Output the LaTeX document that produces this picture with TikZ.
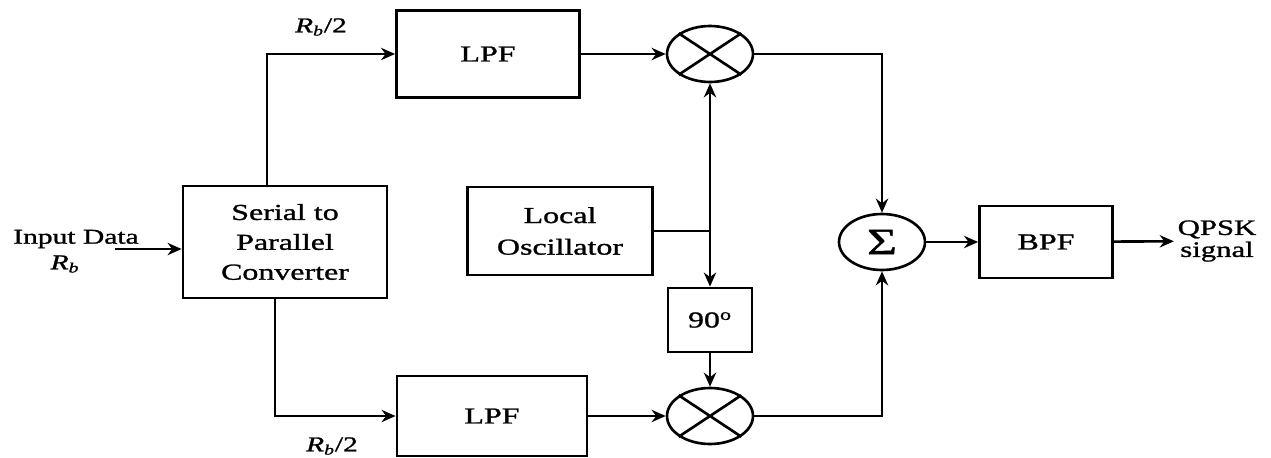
\documentclass[tikz,border=0pt]{standalone}
\usepackage{fontspec}
\setmainfont[FakeStretch=1.4, FakeBold=1.2]{Liberation Serif}
\usetikzlibrary{shapes.geometric,arrows.meta}

\begin{document}
    \begin{tikzpicture}[x=0.02cm, y=-0.02cm, every node/.style={font=\fontsize{13}{17}\selectfont}, box/.style={draw, line width=1.6pt, align=center}, mix/.style={ellipse, draw, line width=1.5pt, minimum width=1.72cm, minimum height=1.12cm, inner sep=0pt}, line/.style={line width=1.5pt}, >={Stealth[length=8pt, width=7pt]}]
        \useasboundingbox (0,0) rectangle (1271,457);
        \node[box, minimum width=4.08cm, minimum height=2.24cm] (conv) at (285,242) {Serial to\\Parallel\\Converter};
        \node[box, minimum width=3.66cm, minimum height=1.74cm] (lpfa) at (488,54) {LPF};
        \node[box, minimum width=3.8cm, minimum height=1.6cm] (lpfb) at (492,416) {LPF};
        \node[box, minimum width=3.7cm, minimum height=1.76cm, font=\fontsize{13}{18}\selectfont] (osc) at (560,231) {Local\\Oscillator};
        \node[box, minimum width=1.68cm, minimum height=1.28cm] (shift) at (710,320) {90\textsuperscript{o}};
        \node[box, minimum width=2.66cm, minimum height=1.44cm] (bpf) at (1046,242) {BPF};
        \node[mix] (mula) at (710,54) {};
        \node[mix] (mulb) at (710,416) {};
        \node[mix] (sum) at (882,242) {\fontsize{21}{21}\selectfont Σ};
        \node[font=\fontsize{12}{14}\selectfont] (inp) at (76,239) {Input Data};
        \node[font=\fontsize{12}{14}\selectfont] (rb) at (65,264) {\textit{R}\textsubscript{\textit{b}}};
        \node[font=\fontsize{12}{14}\selectfont] (rba) at (321,27) {\textit{R}\textsubscript{\textit{b}}/2};
        \node[font=\fontsize{12}{14}\selectfont] (rbb) at (332,446) {\textit{R}\textsubscript{\textit{b}}/2};
        \node[font=\fontsize{12.5}{12.5}\selectfont, align=center, inner sep=2pt] (qpsk) at (1217,241) {QPSK\\signal};
        \coordinate (src) at (115,249);
        \coordinate (ta) at (267,54);
        \coordinate (tb) at (275,416);
        \coordinate (jn) at (710,231);
        \draw[line, ->] (src) -- (src -| conv.west);
        \draw[line, ->] (conv.north -| ta) |- (lpfa.west);
        \draw[line, ->] (conv.south -| tb) |- (lpfb.west);
        \draw[line, ->] (lpfa) -- (mula);
        \draw[line, ->] (lpfb) -- (mulb);
        \draw[line] (osc) -- (jn);
        \draw[line, ->] (jn) -- (mula);
        \draw[line, ->] (jn) -- (shift);
        \draw[line, ->] (shift) -- (mulb);
        \draw[line, ->] (mula) -| (sum);
        \draw[line, ->] (mulb) -| (sum);
        \draw[line, ->] (sum) -- (bpf);
        \draw[line, ->] (bpf) -- (qpsk);
        \foreach \m in {mula, mulb}
            \draw[line] (\m.north west) -- (\m.south east) (\m.north east) -- (\m.south west);
    \end{tikzpicture}
\end{document}
